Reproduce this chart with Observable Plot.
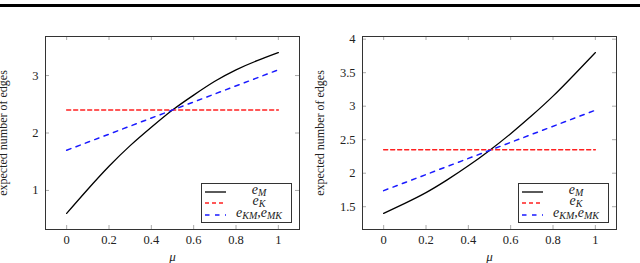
<!DOCTYPE html>
<html><head><meta charset="utf-8">
<script src="https://cdn.jsdelivr.net/npm/d3@7"></script>
<script src="https://cdn.jsdelivr.net/npm/@observablehq/plot@0.6"></script>
<style>
body{margin:0;background:#fff;}
#wrap{position:relative;width:640px;height:263px;overflow:hidden;font-family:"Liberation Serif","DejaVu Serif",serif;}
.bar{position:absolute;left:0;top:4px;width:640px;height:3px;background:#000;}
.panel{position:absolute;top:0;}
.panel svg{overflow:visible;}
.legend{position:absolute;box-sizing:border-box;border:1px solid #333;background:#fff;font-size:14px;color:#222;}
.row{position:absolute;left:0;width:100%;height:12px;}
.row svg{position:absolute;left:2px;top:0;}
.row span{position:absolute;left:26px;right:1px;top:-4px;text-align:center;font-style:italic;line-height:15px;white-space:nowrap;}
.row sub{font-size:10px;vertical-align:-2px;line-height:0;}
</style></head>
<body><div id="wrap"><div class="bar"></div></div>
<script>
// ---- data ----
const mu = [0, 0.1, 0.2, 0.3, 0.4, 0.5, 0.6, 0.7, 0.8, 0.9, 1];
const muEnds = [0, 1];
const eM_left = [0.6, 1.02, 1.42, 1.78, 2.10, 2.40, 2.66, 2.90, 3.10, 3.26, 3.40];
const eK_left = [2.4, 2.4];
const eKM_left = [1.7, 3.1];
const eM_right = [1.40, 1.55, 1.71, 1.90, 2.11, 2.34, 2.59, 2.86, 3.15, 3.47, 3.80];
const eK_right = [2.35, 2.35];
const eKM_right = [1.74, 2.94];
const xTicks = [0, 0.2, 0.4, 0.6, 0.8, 1];
const yTicksLeft = [1, 2, 3];
const yTicksRight = [1.5, 2, 2.5, 3, 3.5, 4];
const xDomain = [-0.1, 1.1];
const yDomainLeft = [0.32, 3.68];
const yDomainRight = [1.16, 4.04];
const xLabel = ["μ"];
const yLabel = ["expected number of edges"];
const seriesNames = ["M", "K", "KM,MK"];

const FONT = '"Liberation Serif", "DejaVu Serif", serif';
function panel({width, mL, mR, eM, eK, eKM, yDomain, yTicks}) {
  const H = 263, mT = 36, mB = 34;
  const fw = width - mL - mR, fh = H - mT - mB, tl = 4, tc = "#aaa";
  const dM = mu.map((m, i) => ({m, v: eM[i]}));
  const dK = muEnds.map((m, i) => ({m, v: eK[i]}));
  const dKM = muEnds.map((m, i) => ({m, v: eKM[i]}));
  return Plot.plot({
    width, height: H, marginLeft: mL, marginRight: mR, marginTop: mT, marginBottom: mB,
    style: {fontFamily: FONT, fontSize: "12px", background: "transparent", color: "#222", overflow: "visible"},
    x: {domain: xDomain}, y: {domain: yDomain},
    marks: [
      Plot.tickX(xTicks, {x: d => d, insetTop: fh - tl, stroke: tc}),
      Plot.tickX(xTicks, {x: d => d, insetBottom: fh - tl, stroke: tc}),
      Plot.tickY(yTicks, {y: d => d, insetRight: fw - tl, stroke: tc}),
      Plot.tickY(yTicks, {y: d => d, insetLeft: fw - tl, stroke: tc}),
      Plot.axisX({ticks: xTicks, tickSize: 0, tickPadding: 6, label: null, fontSize: 12.5, fontFamily: FONT, tickFormat: d => String(d)}),
      Plot.axisY({ticks: yTicks, tickSize: 0, tickPadding: 7, label: null, fontSize: 12.5, fontFamily: FONT, tickFormat: d => String(d)}),
      Plot.line(dM, {x: "m", y: "v", stroke: "#000", strokeWidth: 1.3, curve: "natural"}),
      Plot.line(dK, {x: "m", y: "v", stroke: "#ff2020", strokeWidth: 1.5, strokeDasharray: "4,3"}),
      Plot.line(dKM, {x: "m", y: "v", stroke: "#1a1aff", strokeWidth: 1.5, strokeDasharray: "4.5,5.5"}),
      Plot.frame({stroke: "#333"}),
      Plot.text(xLabel, {frameAnchor: "bottom", dy: 27, lineAnchor: "middle", textAnchor: "middle", text: d => d, fontStyle: "italic", fontSize: 13, fill: "#222", fontFamily: FONT}),
      Plot.text(yLabel, {frameAnchor: "left", dx: -42, rotate: -90, textAnchor: "middle", lineAnchor: "middle", text: d => d, fontSize: 12, fill: "#222", fontFamily: FONT})
    ]
  });
}

function legend(left, top) {
  const lg = document.createElement("div");
  lg.className = "legend";
  Object.assign(lg.style, {left: left + "px", top: top + "px", width: "91px", height: "40px"});
  const styles = [["#000", null, 1.3], ["#ff2020", "4,3", 1.5], ["#1a1aff", "4.5,5.5", 1.5]];
  seriesNames.forEach((n, i) => {
    const r = document.createElement("div");
    r.className = "row";
    r.style.top = (1.5 + i * 11.7) + "px";
    const [c, da, w] = styles[i];
    r.innerHTML = `<svg width="23" height="12"><line x1="1" x2="22" y1="6" y2="6" stroke="${c}" stroke-width="${w}" ${da ? `stroke-dasharray="${da}"` : ""}/></svg>` +
      `<span>${n.split(",").map(s => `e<sub>${s}</sub>`).join(",")}</span>`;
    lg.appendChild(r);
  });
  return lg;
}

const wrap = document.getElementById("wrap");
const p1 = document.createElement("div"); p1.className = "panel"; p1.style.left = "0px";
p1.appendChild(panel({width: 300, mL: 45, mR: 1, eM: eM_left, eK: eK_left, eKM: eKM_left, yDomain: yDomainLeft, yTicks: yTicksLeft}));
const p2 = document.createElement("div"); p2.className = "panel"; p2.style.left = "300px";
p2.appendChild(panel({width: 340, mL: 62, mR: 24, eM: eM_right, eK: eK_right, eKM: eKM_right, yDomain: yDomainRight, yTicks: yTicksRight}));
wrap.appendChild(p1); wrap.appendChild(p2);
wrap.appendChild(legend(201, 183));
wrap.appendChild(legend(518, 183));
</script></body></html>
